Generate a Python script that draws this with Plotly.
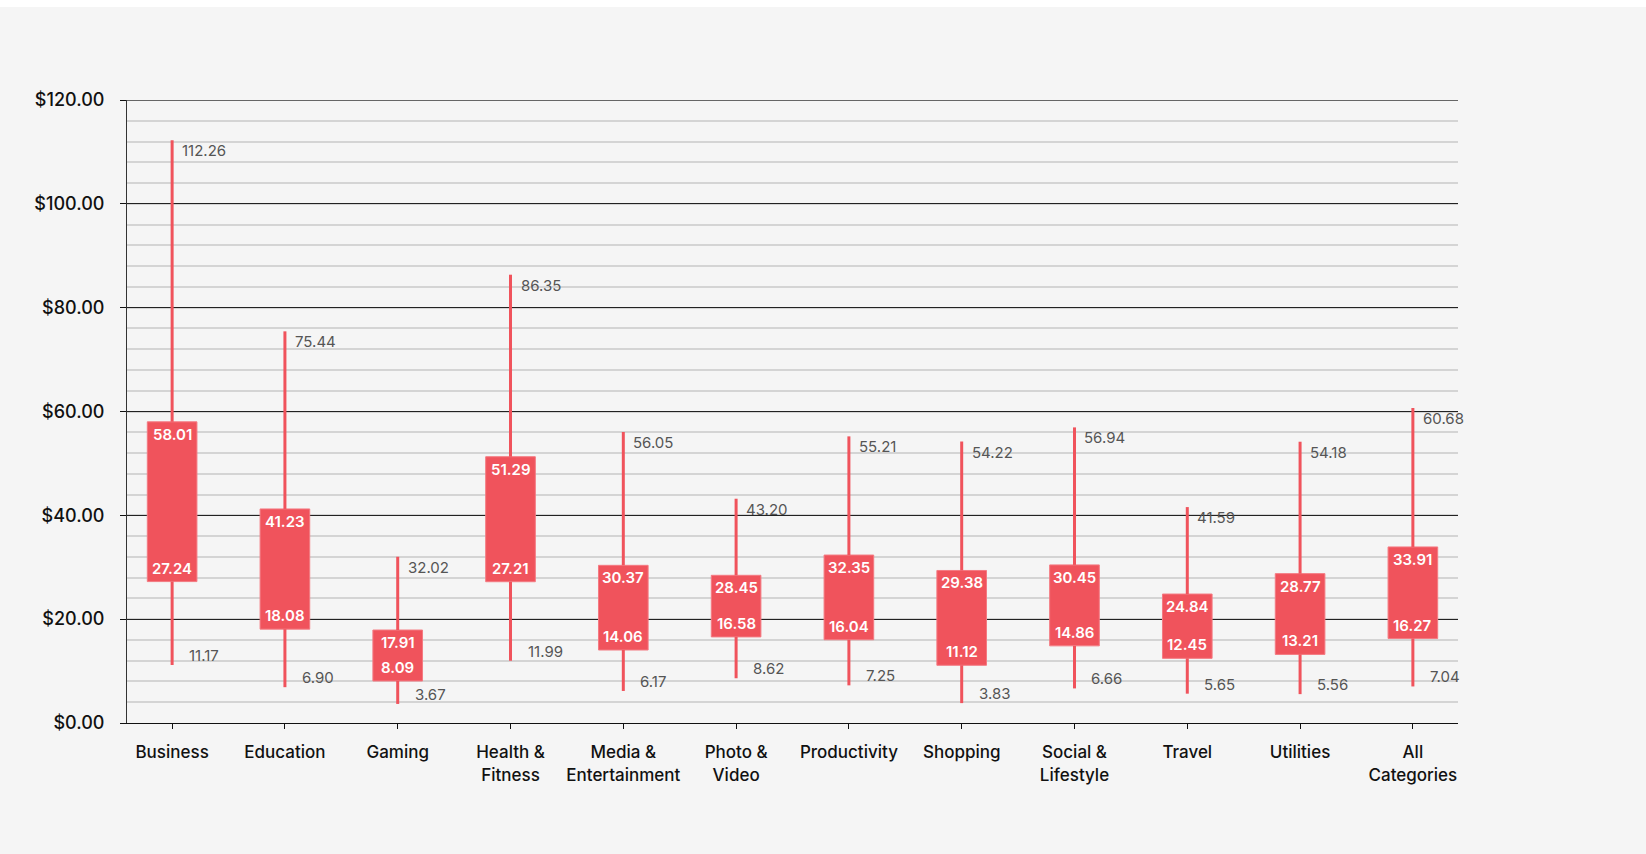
import plotly.graph_objects as go

categories = ["Business", "Education", "Gaming", "Health &<br>Fitness", "Media &<br>Entertainment",
              "Photo &<br>Video", "Productivity", "Shopping", "Social &<br>Lifestyle", "Travel",
              "Utilities", "All<br>Categories"]
low = [11.17, 6.90, 3.67, 11.99, 6.17, 8.62, 7.25, 3.83, 6.66, 5.65, 5.56, 7.04]
q1 = [27.24, 18.08, 8.09, 27.21, 14.06, 16.58, 16.04, 11.12, 14.86, 12.45, 13.21, 16.27]
q3 = [58.01, 41.23, 17.91, 51.29, 30.37, 28.45, 32.35, 29.38, 30.45, 24.84, 28.77, 33.91]
high = [112.26, 75.44, 32.02, 86.35, 56.05, 43.20, 55.21, 54.22, 56.94, 41.59, 54.18, 60.68]
ytick_vals = [0, 20, 40, 60, 80, 100, 120]
ytick_text = ["$0.00", "$20.00", "$40.00", "$60.00", "$80.00", "$100.00", "$120.00"]

RED = "#f0535c"
FONT = "Inter"

fig = go.Figure()

# whiskers
wx, wy = [], []
for c, lo, a, b, hi in zip(categories, low, q1, q3, high):
    wx += [c, c, None, c, c, None]
    wy += [lo, a, None, b, hi, None]
fig.add_trace(go.Scatter(x=wx, y=wy, mode="lines", line=dict(color=RED, width=3),
                         hoverinfo="skip", showlegend=False))

# boxes
fig.add_trace(go.Bar(x=categories, y=[b - a for a, b in zip(q1, q3)], base=q1, width=0.44,
                     marker=dict(color=RED, line=dict(color="#f47a82", width=1)),
                     showlegend=False, hoverinfo="skip"))

ann = []
for c, lo, a, b, hi in zip(categories, low, q1, q3, high):
    ann.append(dict(x=c, y=hi, text=f"{hi:.2f}", xanchor="left", yanchor="top", xshift=8, yshift=1,
                    showarrow=False, font=dict(family=FONT, size=15, color="#555555")))
    ann.append(dict(x=c, y=lo, text=f"{lo:.2f}", xanchor="left", yanchor="bottom", xshift=15, yshift=-2,
                    showarrow=False, font=dict(family=FONT, size=15, color="#555555")))
    ann.append(dict(x=c, y=b, text=f"{b:.2f}", xanchor="center", yanchor="top", yshift=-1,
                    showarrow=False, font=dict(family=FONT, size=15, color="white", weight=600)))
    ann.append(dict(x=c, y=a, text=f"{a:.2f}", xanchor="center", yanchor="bottom", yshift=2,
                    showarrow=False, font=dict(family=FONT, size=15, color="white", weight=600)))

fig.update_layout(
    width=1646, height=854,
    margin=dict(l=127, r=188, t=100, b=131),
    paper_bgcolor="#f5f5f5", plot_bgcolor="#f5f5f5",
    barmode="overlay",
    font=dict(family=FONT, size=17, color="#111111"),
    annotations=ann,
    shapes=[
        dict(type="rect", xref="paper", yref="paper", x0=-0.2, x1=1.3, y0=1 + 93 / 623, y1=1 + 101 / 623,
             fillcolor="white", line=dict(width=0), layer="below"),
        dict(type="line", xref="paper", yref="y", x0=0, x1=1, y0=120, y1=120,
             line=dict(color="#666666", width=2), layer="below"),
    ],
    xaxis=dict(range=[-0.4, 11.4], showgrid=False, showline=True, linecolor="#111111", linewidth=1,
               ticks="outside", ticklen=5, tickcolor="#111111",
               tickfont=dict(family=FONT, size=17, color="#111111", weight=500),
               ticklabelstandoff=9, fixedrange=True),
    yaxis=dict(range=[0, 120], tickvals=ytick_vals, ticktext=ytick_text, showgrid=True,
               gridcolor="#222222", gridwidth=1, showline=True, linecolor="#333333", linewidth=1,
               ticks="outside", ticklen=6, tickcolor="#111111", zeroline=False,
               tickfont=dict(family=FONT, size=18, color="#111111", weight=500), ticklabelstandoff=12,
               minor=dict(dtick=4, showgrid=True, gridcolor="#d4d4d4", gridwidth=1.5), fixedrange=True),
)

fig.write_html("out.html", config={"displayModeBar": False},
               post_script="document.body.style.margin='0';document.body.style.overflow='hidden';")
